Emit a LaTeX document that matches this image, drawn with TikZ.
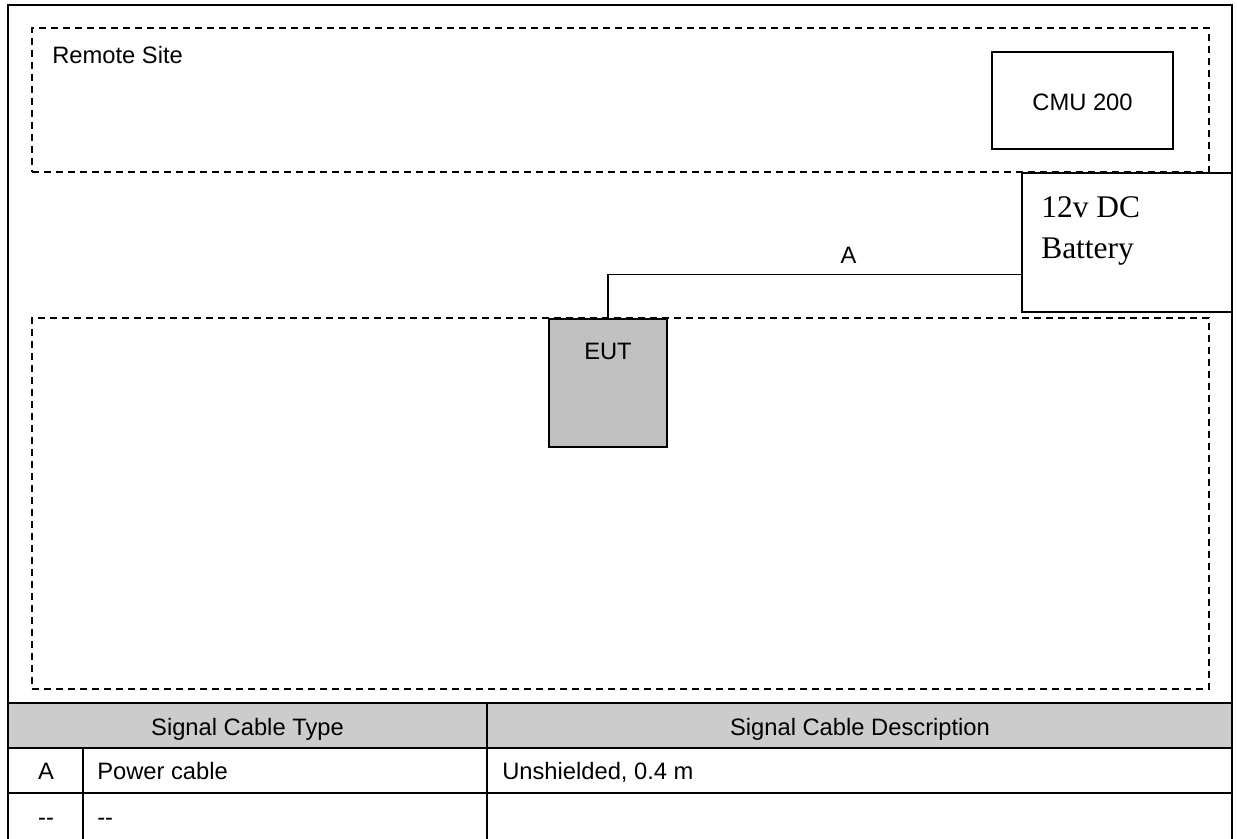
\documentclass[tikz,border=0pt]{standalone}
\usepackage{fontspec}
\setmainfont{Liberation Sans}
\newfontfamily\timesfont{Liberation Serif}
\usetikzlibrary{fit}
\tikzset{
  px/.style={x=0.75pt,y=-0.75pt},
  frameline/.style={line width=1.5pt},
  dashbox/.style={draw, line width=1.4pt, dash pattern=on 5.5pt off 3.5pt, inner sep=0pt},
  solidbox/.style={draw, line width=1.1pt, inner sep=0pt},
  eutbox/.style={draw, line width=1.5pt, fill=eutgray, inner sep=0pt},
  lbl/.style={inner sep=0pt, font=\fontsize{17.8}{21}\selectfont},
  btxt/.style={inner sep=0pt, font=\timesfont\fontsize{23.6}{30.75}\selectfont},
  tline/.style={line width=1.5pt},
  cable/.style={line width=1.2pt}
}
\definecolor{eutgray}{RGB}{192,192,192}
\definecolor{headgray}{RGB}{204,204,204}
\begin{document}
\begin{tikzpicture}[px]
\useasboundingbox (0,0) rectangle (1237,838);
% table header fill
\fill[headgray] (8,703) rectangle (1232,748);
% outer frame
\draw[frameline] (8,840) -- (8,5) -- (1232,5) -- (1232,840);
% dashed regions
\node[dashbox, fit={(32,28) (1209,172)}] (remote) {};
\node[dashbox, fit={(32,318) (1209,689)}] (local) {};
% boxes
\node[solidbox, fit={(992,52) (1173,149)}] (cmu) {};
\node[solidbox, fill=white, fit={(1022,173) (1232,312)}] (batt) {};
\node[eutbox, fit={(549,319) (667,447)}] (eut) {};
% texts
\node[lbl, anchor=base west] (remotetxt) at (52,64) {Remote Site};
\node[lbl, anchor=base] (cmutxt) at (1082.5,111) {CMU 200};
\node[lbl, anchor=base] (euttxt) at (608,359) {EUT};
\node[btxt, anchor=base west] (bt1) at (1041,217) {12v DC};
\node[btxt, anchor=base west] (bt2) at (1041,258) {Battery};
% cable
\coordinate (cabend) at (batt.west |- 0,274.5);
\draw[cable] (eut.north) |- (cabend);
\node[lbl, anchor=base] (alabel) at (848.5,263) {A};
% table
\draw[tline] (8,703) -- (1232,703);
\draw[tline] (8,748) -- (1232,748);
\draw[tline] (8,793) -- (1232,793);
\draw[tline] (487,703) -- (487,840);
\draw[tline] (83,748) -- (83,840);
\node[lbl, anchor=base] (h1) at (247.5,735.5) {Signal Cable Type};
\node[lbl, anchor=base] (h2) at (860,735.5) {Signal Cable Description};
\node[lbl, anchor=base] (r1a) at (46,779.5) {A};
\node[lbl, anchor=base west] (r1b) at (97,779.5) {Power cable};
\node[lbl, anchor=base west] (r1c) at (502,779.5) {Unshielded, 0.4 m};
\node[lbl, anchor=base] (r2a) at (46,825) {-{}-};
\node[lbl, anchor=base west] (r2b) at (97,825) {-{}-};
\end{tikzpicture}
\end{document}
